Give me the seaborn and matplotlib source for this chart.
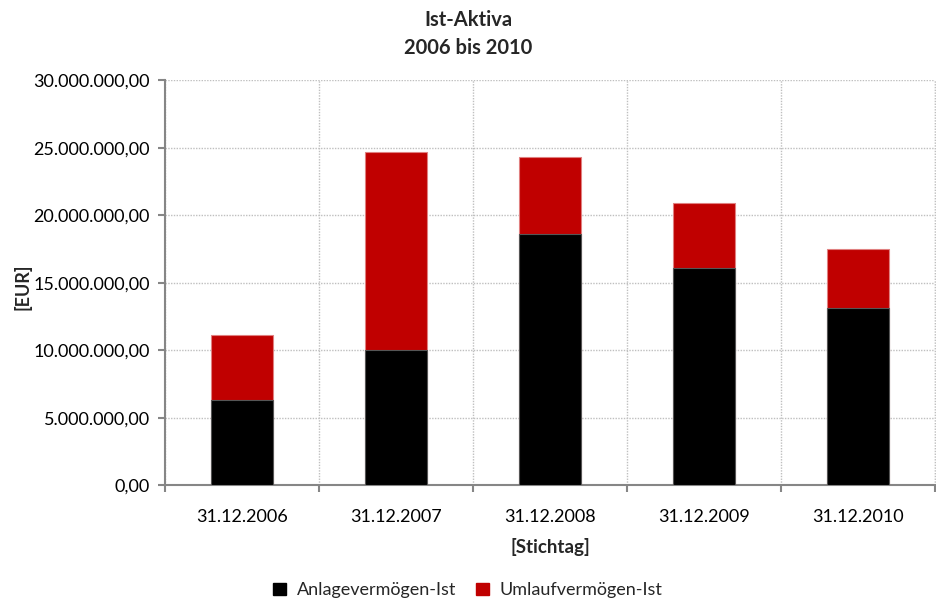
import numpy as np
import pandas as pd
import matplotlib
matplotlib.use("Agg")
import matplotlib.pyplot as plt
from matplotlib.ticker import FuncFormatter, MultipleLocator, FixedLocator
from matplotlib.patches import Patch
import seaborn as sns

# Balance-sheet assets per reporting date (EUR)
stichtage = ["31.12.2006", "31.12.2007", "31.12.2008", "31.12.2009", "31.12.2010"]
anlagevermoegen = [6_360_000, 10_010_000, 18_650_000, 16_110_000, 13_130_000]
umlaufvermoegen = [4_810_000, 14_670_000, 5_660_000, 4_790_000, 4_370_000]

series_names = ["Anlagevermögen-Ist", "Umlaufvermögen-Ist"]
colors = ["#000000", "#C00000"]

sns.set_theme(style="white")
plt.rcParams["font.family"] = ["Lato", "DejaVu Sans"]

df = pd.DataFrame({
    "Stichtag": stichtage,
    "Anlage": anlagevermoegen,
    "Umlauf": umlaufvermoegen,
})
df["Gesamt"] = df["Anlage"] + df["Umlauf"]

fig = plt.figure(figsize=(9.36, 6.01), dpi=100)
ax = fig.add_axes([0.1763, 0.1922, 0.8225, 0.6739])

# Stacked bars: full height in red, fixed assets in black over it
sns.barplot(data=df, x="Stichtag", y="Gesamt", color=colors[1], saturation=1, width=0.4,
            edgecolor="#E08080", linewidth=0.8, ax=ax, zorder=3)
sns.barplot(data=df, x="Stichtag", y="Anlage", color=colors[0], saturation=1, width=0.4,
            edgecolor="#555555", linewidth=0.8, ax=ax, zorder=4)

ax.set_xlim(-0.5, len(stichtage) - 0.5)
ax.set_ylim(0, 30_000_000)
ax.yaxis.set_major_locator(MultipleLocator(5_000_000))


def de_format(v, _pos):
    s = f"{v:,.2f}"
    return s.replace(",", "X").replace(".", ",").replace("X", ".")


ax.yaxis.set_major_formatter(FuncFormatter(de_format))

# Category separators as minor ticks on x
bounds = np.arange(-0.5, len(stichtage) + 0.5, 1.0)
ax.xaxis.set_minor_locator(FixedLocator(bounds))

grid_style = dict(linestyle=(0, (1, 1)), color="#BFBFBF", linewidth=1.0)
ax.grid(axis="y", which="major", zorder=0, **grid_style)
ax.grid(axis="x", which="minor", zorder=0, **grid_style)
ax.grid(axis="x", which="major", visible=False)
# dotted frame on the right edge of the plot area
ax.axvline(len(stichtage) - 0.5, clip_on=False, zorder=0, **grid_style)

for side in ["top", "right"]:
    ax.spines[side].set_visible(False)
for side in ["left", "bottom"]:
    ax.spines[side].set_color("#868686")
    ax.spines[side].set_linewidth(1.5)

ax.tick_params(axis="y", which="major", left=True, length=5, width=1.5, color="#868686",
               labelsize=13, labelcolor="black", pad=6)
ax.tick_params(axis="x", which="major", bottom=False, labelsize=13, labelcolor="black", pad=11)
ax.tick_params(axis="x", which="minor", bottom=True, length=5, width=1.5, color="#868686")

ax.set_xlabel("[Stichtag]", fontsize=13.5, fontweight="bold", labelpad=9)
ax.set_ylabel("[EUR]", fontsize=13, fontweight="bold")
ax.yaxis.set_label_coords(-0.174, 0.49)

fig.suptitle("Ist-Aktiva\n2006 bis 2010", fontsize=14.5, fontweight="bold",
             y=0.984, linespacing=1.5)

handles = [Patch(facecolor=c, edgecolor=c) for c in colors]
fig.legend(handles, series_names, loc="center", bbox_to_anchor=(0.5, 0.018),
           ncol=2, frameon=False, fontsize=13, handlelength=0.7, handleheight=0.7,
           handletextpad=0.6, columnspacing=1.1)

fig.savefig("out.png", dpi=100)
